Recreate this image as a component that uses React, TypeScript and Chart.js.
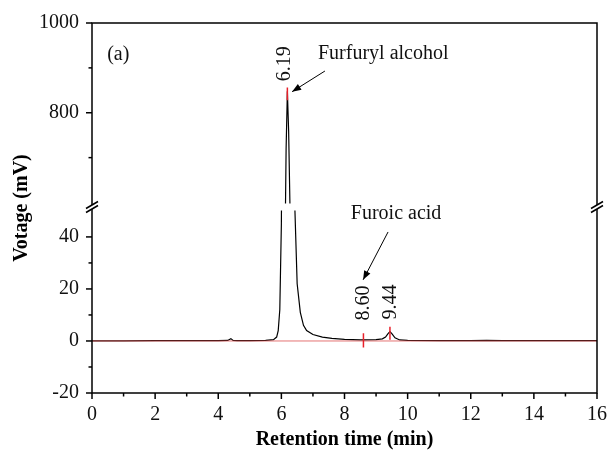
import React, { useEffect, useRef } from 'react';
import { Chart, registerables } from 'chart.js';
Chart.register(...registerables);

// ---- data ----
const timeMin = [0, 1, 2, 3, 4.0, 4.3, 4.4, 4.47, 4.6, 5.0, 5.5, 5.75, 5.85, 5.9, 5.95, 6.0, 6.05, 6.1, 6.15, 6.19, 6.23, 6.27, 6.32, 6.38, 6.43, 6.5, 6.6, 6.7, 6.8, 7.0, 7.3, 7.6, 8.0, 8.5, 8.6, 9.0, 9.2, 9.3, 9.38, 9.44, 9.5, 9.6, 9.75, 10, 11, 12, 12.5, 13, 14, 15, 16];
const signalMv = [0, 0, 0.1, 0.1, 0.1, 0.2, 0.9, 0.2, 0.1, 0.1, 0.2, 0.5, 1.5, 4, 12, 45, 150, 400, 720, 848, 760, 600, 350, 120, 50, 22, 11, 6, 4, 2.5, 1.5, 1.0, 0.6, 0.4, 0.4, 0.5, 0.8, 1.5, 2.8, 3.6, 2.8, 1.2, 0.4, 0.2, 0.1, 0.1, 0.2, 0.1, 0.1, 0.1, 0.1];
const baselineTime = [0, 16];
const baselineMv = [0, 0];

const xTicks = [0, 2, 4, 6, 8, 10, 12, 14, 16];
const xMinorTicks = [1, 3, 5, 7, 9, 11, 13, 15];
const lowerTicks = [-20, 0, 20, 40];
const lowerMinorTicks = [-10, 10, 30, 50];
const upperTicks = [800, 1000];
const upperMinorTicks = [700, 900];
const lowerRange = [-20, 51.5];
const upperRange = [590, 1000];

const peakLabels = ['6.19', '8.60', '9.44'];
const peakTimes = [6.19, 8.6, 9.44];
const markerLow = [828, -2.5, 0.5];
const markerHigh = [856, 3, 5.5];
const markerAxis = ['yU', 'yL', 'yL'];
const compoundNames = ['Furfuryl alcohol', 'Furoic acid'];

const FONT = "'Liberation Serif', 'Times New Roman', serif";

const zeroPad = (s: any) => {
  s.paddingLeft = 0;
  s.paddingRight = 0;
  s.paddingTop = 0;
  s.paddingBottom = 0;
};

const breakPlugin = {
  id: 'breakPlugin',
  beforeDatasetDraw(chart: any, args: any) {
    const meta = args.meta;
    const ys = meta.yScale;
    const ca = chart.chartArea;
    const ctx = chart.ctx;
    ctx.save();
    ctx.beginPath();
    const inset = 3.5;
    let top = ys.top, bottom = ys.bottom;
    if (ys.id === 'yL') top += inset;
    if (ys.id === 'yU') bottom -= inset;
    ctx.rect(ca.left, top, ca.right - ca.left, bottom - top);
    ctx.clip();
  },
  afterDatasetDraw(chart: any) {
    chart.ctx.restore();
  },
  afterDraw(chart: any) {
    const ctx = chart.ctx;
    const ca = chart.chartArea;
    const x = chart.scales.x;
    const yL = chart.scales.yL;
    const yU = chart.scales.yU;
    ctx.save();
    // frame
    ctx.strokeStyle = '#000';
    ctx.lineWidth = 1.5;
    ctx.strokeRect(ca.left, ca.top, ca.right - ca.left, ca.bottom - ca.top);
    // ticks
    const tick = (px: number, py: number, dx: number, dy: number) => {
      ctx.beginPath();
      ctx.moveTo(px, py);
      ctx.lineTo(px + dx, py + dy);
      ctx.stroke();
    };
    xTicks.forEach(v => tick(x.getPixelForValue(v), ca.bottom, 0, 6));
    xMinorTicks.forEach(v => tick(x.getPixelForValue(v), ca.bottom, 0, 3.5));
    lowerTicks.forEach(v => tick(ca.left, yL.getPixelForValue(v), -6, 0));
    lowerMinorTicks.forEach(v => { if (v < lowerRange[1] - 3) tick(ca.left, yL.getPixelForValue(v), -3.5, 0); });
    upperTicks.forEach(v => tick(ca.left, yU.getPixelForValue(v), -6, 0));
    upperMinorTicks.forEach(v => tick(ca.left, yU.getPixelForValue(v), -3.5, 0));
    // breaks
    const yb = yL.top;
    [ca.left, ca.right].forEach(bx => {
      ctx.fillStyle = '#fff';
      ctx.fillRect(bx - 2, yb - 2, 4, 4);
      ctx.strokeStyle = '#000';
      ctx.lineWidth = 1.5;
      [-2, 2].forEach(off => {
        ctx.beginPath();
        ctx.moveTo(bx - 6, yb + 3.5 + off);
        ctx.lineTo(bx + 6, yb - 3.5 + off);
        ctx.stroke();
      });
    });
    // y title
    ctx.fillStyle = '#000';
    ctx.font = `bold 20px ${FONT}`;
    ctx.textAlign = 'center';
    ctx.textBaseline = 'middle';
    ctx.save();
    ctx.translate(ca.left - 70, (ca.top + ca.bottom) / 2);
    ctx.rotate(-Math.PI / 2);
    ctx.fillText('Votage (mV)', 0, 0);
    ctx.restore();
    // annotations
    ctx.font = `20px ${FONT}`;
    ctx.fillStyle = '#111';
    ctx.textAlign = 'left';
    ctx.fillText('(a)', x.getPixelForValue(0.48), yU.getPixelForValue(929));
    ctx.fillText(compoundNames[0], x.getPixelForValue(7.16), yU.getPixelForValue(931));
    ctx.fillText(compoundNames[1], x.getPixelForValue(8.2), yL.getPixelForValue(49));
    const rot = (txt: string, px: number, py: number) => {
      ctx.save();
      ctx.translate(px, py);
      ctx.rotate(-Math.PI / 2);
      ctx.textAlign = 'center';
      ctx.fillText(txt, 0, 0);
      ctx.restore();
    };
    rot(peakLabels[0], x.getPixelForValue(peakTimes[0]) - 3, yU.getPixelForValue(909));
    rot(peakLabels[1], x.getPixelForValue(peakTimes[1]), yL.getPixelForValue(14.6));
    rot(peakLabels[2], x.getPixelForValue(peakTimes[2]) + 1, yL.getPixelForValue(15));
    const arrow = (x1: number, y1: number, x2: number, y2: number) => {
      ctx.strokeStyle = '#000';
      ctx.fillStyle = '#000';
      ctx.lineWidth = 1;
      ctx.beginPath();
      ctx.moveTo(x1, y1);
      ctx.lineTo(x2, y2);
      ctx.stroke();
      const a = Math.atan2(y2 - y1, x2 - x1);
      const L = 9, W = 3.5;
      ctx.beginPath();
      ctx.moveTo(x2, y2);
      ctx.lineTo(x2 - L * Math.cos(a) + W * Math.sin(a), y2 - L * Math.sin(a) - W * Math.cos(a));
      ctx.lineTo(x2 - L * Math.cos(a) - W * Math.sin(a), y2 - L * Math.sin(a) + W * Math.cos(a));
      ctx.closePath();
      ctx.fill();
    };
    arrow(x.getPixelForValue(7.38), yU.getPixelForValue(893), x.getPixelForValue(6.34), yU.getPixelForValue(847));
    arrow(x.getPixelForValue(9.38), yL.getPixelForValue(41.9), x.getPixelForValue(8.59), yL.getPixelForValue(23.5));
    ctx.restore();
  },
};

export default function App() {
  const ref = useRef<HTMLCanvasElement>(null);
  useEffect(() => {
    if (!ref.current) return;
    const prevMargin = document.body.style.margin;
    document.body.style.margin = '0';
    const pts = timeMin.map((t, i) => ({ x: t, y: signalMv[i] }));
    const base = baselineTime.map((t, i) => ({ x: t, y: baselineMv[i] }));
    const markers = peakTimes.map((t, i) => ({
      data: [{ x: t, y: markerLow[i] }, { x: t, y: markerHigh[i] }],
      yAxisID: markerAxis[i],
      borderColor: '#e8202a',
      borderWidth: 1.5,
      pointRadius: 0,
      order: 0,
    }));
    const tickFont = { family: FONT, size: 20 };
    const chart = new Chart(ref.current, {
      type: 'line',
      data: {
        datasets: [
          ...markers,
          { data: base, yAxisID: 'yL', borderColor: 'rgba(220,70,70,0.75)', borderWidth: 1, pointRadius: 0, order: 1 },
          { data: pts, yAxisID: 'yL', borderColor: '#000', borderWidth: 1.2, pointRadius: 0, order: 2 },
          { data: pts, yAxisID: 'yU', borderColor: '#000', borderWidth: 1.2, pointRadius: 0, order: 2 },
        ] as any,
      },
      options: {
        animation: false,
        responsive: false,
        devicePixelRatio: 1,
        layout: { padding: { left: 8, right: 12, top: 23, bottom: 8 } },
        plugins: { legend: { display: false }, tooltip: { enabled: false } },
        scales: {
          x: {
            type: 'linear',
            min: 0,
            max: 16,
            afterBuildTicks: (s: any) => { s.ticks = xTicks.map(v => ({ value: v })); },
            afterFit: (s: any) => { s.height = 63; zeroPad(s); },
            grid: { display: false, drawTicks: false },
            border: { display: false },
            ticks: { padding: 10, color: '#111', font: tickFont, maxRotation: 0, callback: (v: any) => String(v) },
            title: { display: true, text: 'Retention time (min)', color: '#000', font: { family: FONT, size: 20, weight: 'bold' } },
          },
          yL: {
            type: 'linear',
            position: 'left',
            stack: 'v',
            stackWeight: 186,
            min: lowerRange[0],
            max: lowerRange[1],
            afterBuildTicks: (s: any) => { s.ticks = lowerTicks.map(v => ({ value: v })); },
            afterFit: (s: any) => { s.width = 84; zeroPad(s); },
            grid: { display: false, drawTicks: false },
            border: { display: false },
            ticks: { padding: 13, color: '#111', font: tickFont, callback: (v: any) => String(v) },
          },
          yU: {
            type: 'linear',
            position: 'left',
            stack: 'v',
            stackWeight: 184,
            min: upperRange[0],
            max: upperRange[1],
            afterBuildTicks: (s: any) => { s.ticks = upperTicks.map(v => ({ value: v })); },
            afterFit: (s: any) => { s.width = 84; zeroPad(s); },
            grid: { display: false, drawTicks: false },
            border: { display: false },
            ticks: { padding: 13, color: '#111', font: tickFont, callback: (v: any) => String(v) },
          },
        },
      } as any,
      plugins: [breakPlugin],
    });
    return () => {
      chart.destroy();
      document.body.style.margin = prevMargin;
    };
  }, []);
  return (
    <div style={{ width: 609, height: 464 }}>
      <canvas ref={ref} width={609} height={464} style={{ display: 'block', width: 609, height: 464 }} />
    </div>
  );
}
